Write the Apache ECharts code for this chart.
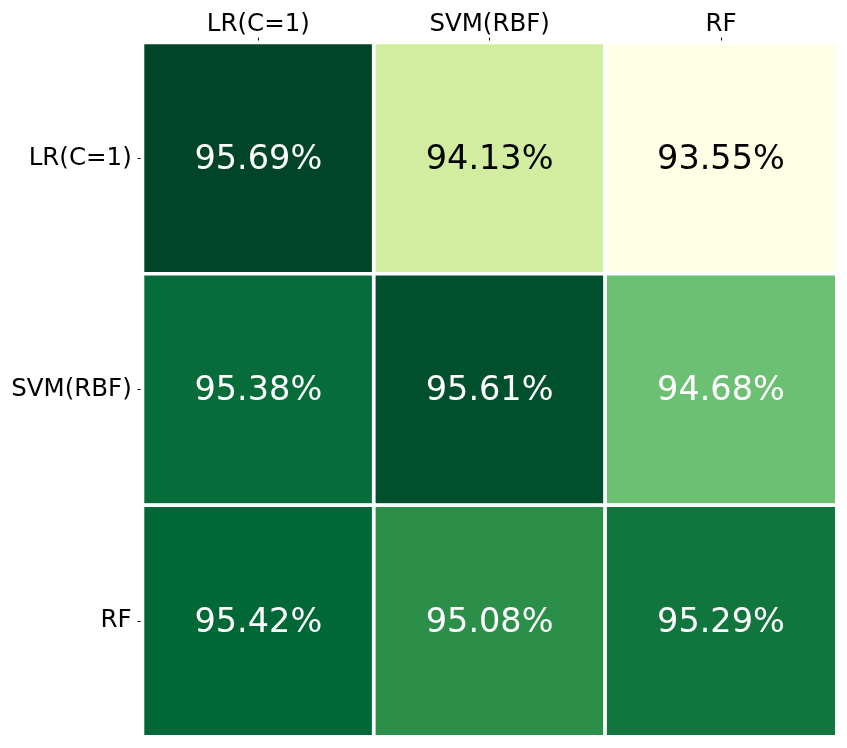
<!DOCTYPE html>
<html><head><meta charset="utf-8">
<script src="https://cdn.jsdelivr.net/npm/echarts@6/dist/echarts.min.js"></script>
<style>html,body{margin:0;padding:0;background:#fff}#c{width:847px;height:748px}</style>
</head><body><div id="c"></div>
<script>
const colLabels = ['LR(C=1)', 'SVM(RBF)', 'RF'];
const rowLabels = ['LR(C=1)', 'SVM(RBF)', 'RF'];
const row0 = [95.69, 94.13, 93.55];
const row1 = [95.38, 95.61, 94.68];
const row2 = [95.42, 95.08, 95.29];
const rows = [row0, row1, row2];
const ylgn = ['#ffffe5','#f7fcb9','#d9f0a3','#addd8e','#78c679','#41ab5d','#238443','#006837','#004529'];

const vmin = 93.55, vmax = 95.69;
const data = [];
rows.forEach((r, i) => r.forEach((v, j) => {
  const t = (v - vmin) / (vmax - vmin);
  data.push({value: [j, i, v], label: {color: t < 0.4 ? '#000' : '#fff'}});
}));

const chart = echarts.init(document.getElementById('c'), null, {renderer: 'canvas'});
chart.setOption({
  backgroundColor: '#fff',
  animation: false,
  grid: {left: 142.7, right: 10.4, top: 42.7, bottom: 11.4},
  xAxis: {
    type: 'category', data: colLabels, position: 'top',
    axisLine: {show: false},
    axisTick: {show: true, alignWithLabel: true, length: 5, lineStyle: {color: '#000', width: 1}},
    axisLabel: {color: '#000', fontSize: 24.5, fontFamily: 'DejaVu Sans', margin: 6},
    splitArea: {show: false}
  },
  yAxis: {
    type: 'category', data: rowLabels, inverse: true,
    axisLine: {show: false},
    axisTick: {show: true, alignWithLabel: true, length: 5, lineStyle: {color: '#000', width: 1}},
    axisLabel: {color: '#000', fontSize: 24.5, fontFamily: 'DejaVu Sans', margin: 11},
    splitArea: {show: false}
  },
  visualMap: {
    show: false, min: vmin, max: vmax, dimension: 2,
    inRange: {color: ylgn}
  },
  series: [{
    type: 'heatmap',
    data: data,
    itemStyle: {borderColor: '#fff', borderWidth: 3.7},
    label: {
      show: true, fontSize: 33.5, fontFamily: 'DejaVu Sans', offset: [0, 2],
      formatter: p => p.value[2].toFixed(2) + '%'
    }
  }]
});
</script></body></html>
